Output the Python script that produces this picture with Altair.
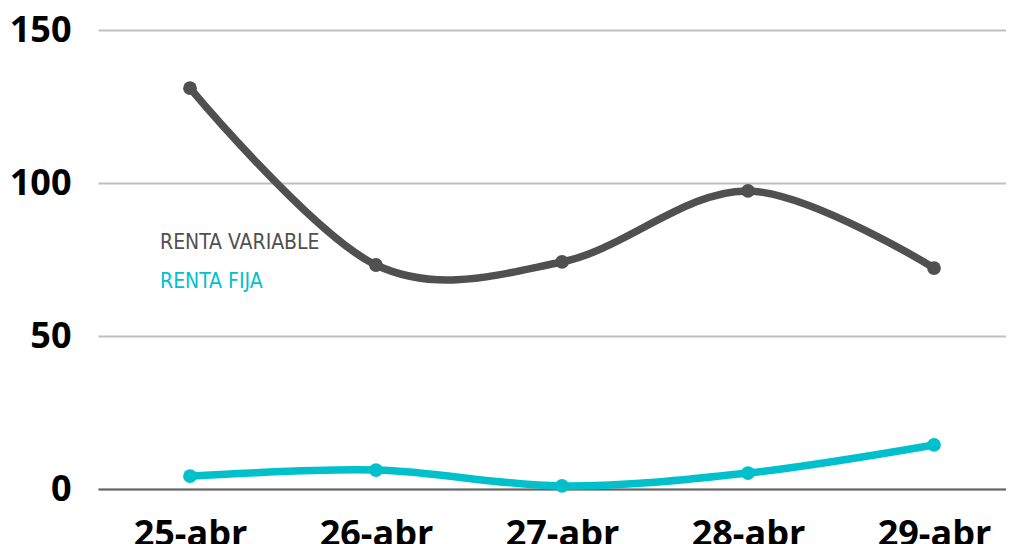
import altair as alt
import pandas as pd

dates = ["25-abr", "26-abr", "27-abr", "28-abr", "29-abr"]
renta_variable = [131, 73.2, 74.2, 97.4, 72.2]
renta_fija = [4.2, 6.2, 1.0, 5.2, 14.4]
series_names = ["RENTA VARIABLE", "RENTA FIJA"]
series_colors = ["#505050", "#00c1cb"]

rows = []
for i, (d, v) in enumerate(zip(dates, renta_variable)):
    rows.append({"idx": i, "fecha": d, "valor": v, "serie": series_names[0]})
for i, (d, v) in enumerate(zip(dates, renta_fija)):
    rows.append({"idx": i, "fecha": d, "valor": v, "serie": series_names[1]})
df = pd.DataFrame(rows)

date_array = "[" + ",".join("'" + d + "'" for d in dates) + "]"

x = alt.X("idx:Q", title=None,
          scale=alt.Scale(domain=[-0.4946, 4.387], nice=False, zero=False),
          axis=alt.Axis(values=list(range(len(dates))), labelExpr=date_array + "[datum.value]",
                        labelAngle=0, labelFont="Open Sans", labelFontWeight="bold",
                        labelFontSize=36, labelColor="#000000", labelPadding=28,
                        ticks=False, domain=True, domainColor="#666666", domainWidth=2,
                        grid=False, labelOverlap=False))
y = alt.Y("valor:Q", title=None,
          scale=alt.Scale(domain=[0, 150], nice=False),
          axis=alt.Axis(values=[0, 50, 100, 150], labelFont="Open Sans", labelFontWeight="bold",
                        labelFontSize=36, labelColor="#000000", labelPadding=27,
                        ticks=False, domain=False, grid=True, gridColor="#bfbfbf",
                        gridWidth=2))
color = alt.Color("serie:N", sort=series_names, title=None,
                  scale=alt.Scale(domain=series_names, range=series_colors),
                  legend=None)

base = alt.Chart(df).encode(x=x, y=y, color=color)
lines = base.mark_line(interpolate="cardinal", strokeWidth=7.5)
points = base.mark_circle(size=190, opacity=1)

legend_layers = []
for i, (name, col) in enumerate(zip(series_names, series_colors)):
    legend_layers.append(
        alt.Chart(pd.DataFrame({"t": [name]})).mark_text(
            font="DejaVu Sans Condensed", fontSize=21, align="left", baseline="middle",
            color=col,
        ).encode(text="t:N", x=alt.value(62), y=alt.value(213 + 39 * i))
    )

chart = alt.layer(lines, points, *legend_layers).properties(
    width=908, height=459,
    autosize=alt.AutoSizeParams(type="none"),
    padding={"left": 90, "top": 22, "right": 0, "bottom": 55},
).configure_view(stroke=None)

chart.save("out.html", embed_options={"renderer": "svg", "actions": False})
